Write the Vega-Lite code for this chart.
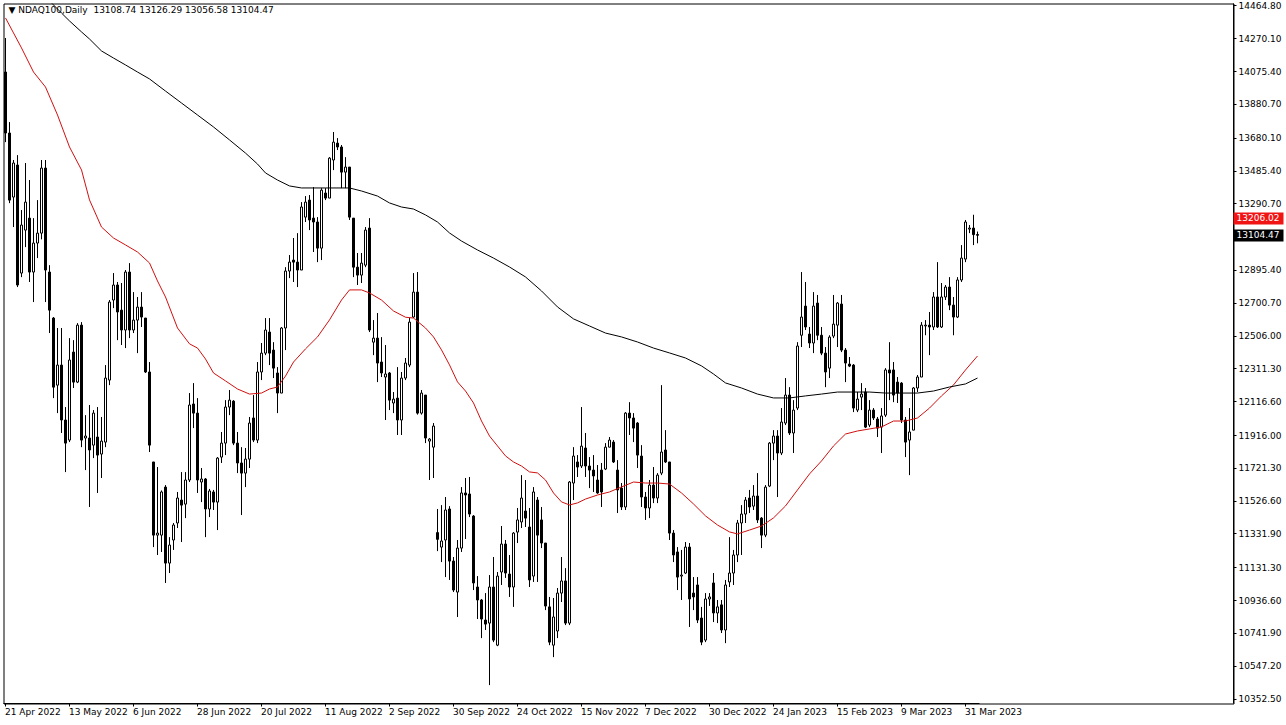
{
"$schema": "https://vega.github.io/schema/vega-lite/v6.json",
"width": 1230, "height": 700,
"autosize": {"type": "none"},
"padding": {"left": 3.5, "top": 3.5, "right": 52.5, "bottom": 21.5},
"background": "white",
"title": {"text": "▼ NDAQ100,Daily\u00a0 13108.74 13126.29 13056.58 13104.47", "anchor": "start", "frame": "group", "orient": "top", "offset": 0, "dx": 5, "dy": 13, "font": "DejaVu Sans", "fontSize": 9, "fontWeight": "normal", "color": "black"},
"config": {
 "view": {"stroke": "black", "strokeWidth": 1},
 "axis": {"grid": false, "labelFont": "DejaVu Sans", "labelFontSize": 9, "labelColor": "black", "domainColor": "black", "tickColor": "black", "translate": 0, "labelOverlap": false}
},
"resolve": {"axis": {"y": "independent"}},
"datasets": {
"candles": [
{"d":"2022-04-21","o":14073,"h":14275,"l":13657,"c":13711},
{"d":"2022-04-22","o":13711,"h":13776,"l":13295,"c":13313},
{"d":"2022-04-25","o":13331,"h":13551,"l":13153,"c":13533},
{"d":"2022-04-26","o":13521,"h":13580,"l":12797,"c":12809},
{"d":"2022-04-27","o":12880,"h":13254,"l":12856,"c":13165},
{"d":"2022-04-28","o":13135,"h":13533,"l":13034,"c":13301},
{"d":"2022-04-29","o":13206,"h":13432,"l":12827,"c":12886},
{"d":"2022-05-02","o":12886,"h":13206,"l":12708,"c":13058},
{"d":"2022-05-03","o":13058,"h":13313,"l":12969,"c":13117},
{"d":"2022-05-04","o":13117,"h":13551,"l":13080,"c":13503},
{"d":"2022-05-05","o":13503,"h":13551,"l":12708,"c":12898},
{"d":"2022-05-06","o":12886,"h":12927,"l":12524,"c":12660},
{"d":"2022-05-09","o":12613,"h":12619,"l":12138,"c":12203},
{"d":"2022-05-10","o":12215,"h":12554,"l":12049,"c":12334},
{"d":"2022-05-11","o":12334,"h":12554,"l":11931,"c":12008},
{"d":"2022-05-12","o":12008,"h":12085,"l":11699,"c":11871},
{"d":"2022-05-13","o":11889,"h":12494,"l":11877,"c":12364},
{"d":"2022-05-16","o":12411,"h":12482,"l":12198,"c":12233},
{"d":"2022-05-17","o":12233,"h":12583,"l":12227,"c":12571},
{"d":"2022-05-18","o":12571,"h":12589,"l":11847,"c":11889},
{"d":"2022-05-19","o":11901,"h":12037,"l":11711,"c":11913},
{"d":"2022-05-20","o":11901,"h":12097,"l":11492,"c":11830},
{"d":"2022-05-23","o":11859,"h":12067,"l":11782,"c":12049},
{"d":"2022-05-24","o":11907,"h":12085,"l":11575,"c":11800},
{"d":"2022-05-25","o":11806,"h":12026,"l":11664,"c":11883},
{"d":"2022-05-26","o":11877,"h":12334,"l":11847,"c":12257},
{"d":"2022-05-27","o":12245,"h":12720,"l":12215,"c":12708},
{"d":"2022-05-30","o":12720,"h":12880,"l":12672,"c":12809},
{"d":"2022-05-31","o":12809,"h":12827,"l":12482,"c":12649},
{"d":"2022-06-01","o":12660,"h":12821,"l":12453,"c":12542},
{"d":"2022-06-02","o":12542,"h":12898,"l":12435,"c":12886},
{"d":"2022-06-03","o":12886,"h":12939,"l":12494,"c":12542},
{"d":"2022-06-06","o":12542,"h":12767,"l":12524,"c":12601},
{"d":"2022-06-07","o":12601,"h":12738,"l":12405,"c":12678},
{"d":"2022-06-08","o":12678,"h":12767,"l":12560,"c":12619},
{"d":"2022-06-09","o":12613,"h":12613,"l":12287,"c":12293},
{"d":"2022-06-10","o":12293,"h":12352,"l":11818,"c":11859},
{"d":"2022-06-13","o":11759,"h":11759,"l":11254,"c":11325},
{"d":"2022-06-14","o":11325,"h":11729,"l":11207,"c":11337},
{"d":"2022-06-15","o":11325,"h":11590,"l":11225,"c":11581},
{"d":"2022-06-16","o":11610,"h":11622,"l":11041,"c":11159},
{"d":"2022-06-17","o":11159,"h":11313,"l":11100,"c":11266},
{"d":"2022-06-20","o":11296,"h":11397,"l":11237,"c":11385},
{"d":"2022-06-21","o":11397,"h":11581,"l":11367,"c":11545},
{"d":"2022-06-22","o":11533,"h":11699,"l":11284,"c":11503},
{"d":"2022-06-23","o":11509,"h":11699,"l":11426,"c":11652},
{"d":"2022-06-24","o":11652,"h":12168,"l":11640,"c":12097},
{"d":"2022-06-27","o":12103,"h":12227,"l":11960,"c":12049},
{"d":"2022-06-28","o":12049,"h":12138,"l":11575,"c":11652},
{"d":"2022-06-29","o":11640,"h":11723,"l":11521,"c":11658},
{"d":"2022-06-30","o":11658,"h":11664,"l":11313,"c":11480},
{"d":"2022-07-01","o":11480,"h":11599,"l":11432,"c":11587},
{"d":"2022-07-04","o":11581,"h":11593,"l":11474,"c":11521},
{"d":"2022-07-05","o":11521,"h":11788,"l":11355,"c":11782},
{"d":"2022-07-06","o":11788,"h":11937,"l":11753,"c":11871},
{"d":"2022-07-07","o":11871,"h":12126,"l":11800,"c":12085},
{"d":"2022-07-08","o":12085,"h":12186,"l":12037,"c":12126},
{"d":"2022-07-11","o":12120,"h":12126,"l":11859,"c":11871},
{"d":"2022-07-12","o":11871,"h":11937,"l":11693,"c":11753},
{"d":"2022-07-13","o":11753,"h":11847,"l":11444,"c":11693},
{"d":"2022-07-14","o":11693,"h":11842,"l":11610,"c":11776},
{"d":"2022-07-15","o":11776,"h":12026,"l":11723,"c":11990},
{"d":"2022-07-18","o":12020,"h":12156,"l":11877,"c":11889},
{"d":"2022-07-19","o":11889,"h":12352,"l":11871,"c":12293},
{"d":"2022-07-20","o":12293,"h":12465,"l":12245,"c":12405},
{"d":"2022-07-21","o":12405,"h":12613,"l":12393,"c":12542},
{"d":"2022-07-22","o":12530,"h":12613,"l":12334,"c":12405},
{"d":"2022-07-25","o":12423,"h":12470,"l":12257,"c":12316},
{"d":"2022-07-26","o":12287,"h":12322,"l":12049,"c":12168},
{"d":"2022-07-27","o":12168,"h":12560,"l":12168,"c":12554},
{"d":"2022-07-28","o":12554,"h":12915,"l":12423,"c":12892},
{"d":"2022-07-29","o":12892,"h":12987,"l":12850,"c":12945},
{"d":"2022-08-01","o":12957,"h":13088,"l":12827,"c":12945},
{"d":"2022-08-02","o":12945,"h":13117,"l":12797,"c":12898},
{"d":"2022-08-03","o":12898,"h":13301,"l":12898,"c":13272},
{"d":"2022-08-04","o":13212,"h":13337,"l":13183,"c":13301},
{"d":"2022-08-05","o":13313,"h":13343,"l":13135,"c":13195},
{"d":"2022-08-08","o":13206,"h":13390,"l":13005,"c":13183},
{"d":"2022-08-09","o":13183,"h":13212,"l":12945,"c":13028},
{"d":"2022-08-10","o":13028,"h":13384,"l":12957,"c":13372},
{"d":"2022-08-11","o":13355,"h":13384,"l":13313,"c":13325},
{"d":"2022-08-12","o":13325,"h":13568,"l":13325,"c":13562},
{"d":"2022-08-15","o":13551,"h":13717,"l":13491,"c":13657},
{"d":"2022-08-16","o":13651,"h":13681,"l":13610,"c":13628},
{"d":"2022-08-17","o":13628,"h":13640,"l":13384,"c":13479},
{"d":"2022-08-18","o":13479,"h":13568,"l":13384,"c":13509},
{"d":"2022-08-19","o":13509,"h":13509,"l":13195,"c":13212},
{"d":"2022-08-22","o":13206,"h":13206,"l":12856,"c":12915},
{"d":"2022-08-23","o":12915,"h":12999,"l":12809,"c":12868},
{"d":"2022-08-24","o":12868,"h":12999,"l":12821,"c":12939},
{"d":"2022-08-25","o":12927,"h":13153,"l":12915,"c":13135},
{"d":"2022-08-26","o":13147,"h":13206,"l":12530,"c":12542},
{"d":"2022-08-29","o":12470,"h":12601,"l":12393,"c":12494},
{"d":"2022-08-30","o":12494,"h":12643,"l":12233,"c":12346},
{"d":"2022-08-31","o":12352,"h":12500,"l":12263,"c":12287},
{"d":"2022-09-01","o":12263,"h":12453,"l":12008,"c":12281},
{"d":"2022-09-02","o":12287,"h":12293,"l":12067,"c":12126},
{"d":"2022-09-05","o":12109,"h":12174,"l":12049,"c":12132},
{"d":"2022-09-06","o":12138,"h":12322,"l":11919,"c":12008},
{"d":"2022-09-07","o":12008,"h":12293,"l":11919,"c":12257},
{"d":"2022-09-08","o":12257,"h":12376,"l":12245,"c":12346},
{"d":"2022-09-09","o":12334,"h":12613,"l":12322,"c":12589},
{"d":"2022-09-12","o":12619,"h":12880,"l":12613,"c":12767},
{"d":"2022-09-13","o":12767,"h":12886,"l":12040,"c":12049},
{"d":"2022-09-14","o":12049,"h":12186,"l":12040,"c":12168},
{"d":"2022-09-15","o":12156,"h":12156,"l":11871,"c":11901},
{"d":"2022-09-16","o":11883,"h":11901,"l":11652,"c":11895},
{"d":"2022-09-19","o":11847,"h":11990,"l":11664,"c":11972},
{"d":"2022-09-23","o":11340,"h":11480,"l":11230,"c":11300},
{"d":"2022-09-26","o":11254,"h":11503,"l":11165,"c":11290},
{"d":"2022-09-28","o":11296,"h":11551,"l":11076,"c":11474},
{"d":"2022-09-29","o":11480,"h":11497,"l":11059,"c":11171},
{"d":"2022-09-30","o":11171,"h":11195,"l":10987,"c":10999},
{"d":"2022-10-03","o":10987,"h":11296,"l":10839,"c":11248},
{"d":"2022-10-04","o":11248,"h":11610,"l":11225,"c":11575},
{"d":"2022-10-05","o":11575,"h":11664,"l":11302,"c":11563},
{"d":"2022-10-06","o":11569,"h":11670,"l":11432,"c":11450},
{"d":"2022-10-07","o":11438,"h":11444,"l":10999,"c":11041},
{"d":"2022-10-10","o":11017,"h":11082,"l":10827,"c":10940},
{"d":"2022-10-11","o":10940,"h":10946,"l":10714,"c":10827},
{"d":"2022-10-12","o":10821,"h":10981,"l":10762,"c":10797},
{"d":"2022-10-13","o":10803,"h":11088,"l":10435,"c":11017},
{"d":"2022-10-14","o":11017,"h":11195,"l":10690,"c":10702},
{"d":"2022-10-17","o":10672,"h":11106,"l":10666,"c":11082},
{"d":"2022-10-18","o":11106,"h":11379,"l":11029,"c":11272},
{"d":"2022-10-19","o":11272,"h":11296,"l":11071,"c":11100},
{"d":"2022-10-20","o":11094,"h":11207,"l":10958,"c":11017},
{"d":"2022-10-21","o":11017,"h":11343,"l":10899,"c":11337},
{"d":"2022-10-24","o":11343,"h":11486,"l":11278,"c":11415},
{"d":"2022-10-25","o":11403,"h":11681,"l":11367,"c":11545},
{"d":"2022-10-26","o":11468,"h":11652,"l":11373,"c":11426},
{"d":"2022-10-27","o":11373,"h":11486,"l":11017,"c":11059},
{"d":"2022-10-28","o":11082,"h":11610,"l":11047,"c":11581},
{"d":"2022-10-31","o":11533,"h":11551,"l":11047,"c":11325},
{"d":"2022-11-01","o":11415,"h":11492,"l":11248,"c":11278},
{"d":"2022-11-02","o":11278,"h":11278,"l":10880,"c":10904},
{"d":"2022-11-03","o":10899,"h":10958,"l":10672,"c":10690},
{"d":"2022-11-04","o":10672,"h":10952,"l":10601,"c":10839},
{"d":"2022-11-07","o":10756,"h":11011,"l":10714,"c":10981},
{"d":"2022-11-08","o":10981,"h":11195,"l":10928,"c":11053},
{"d":"2022-11-09","o":11053,"h":11129,"l":10791,"c":10803},
{"d":"2022-11-10","o":10803,"h":11646,"l":10791,"c":11640},
{"d":"2022-11-11","o":11634,"h":11847,"l":11533,"c":11794},
{"d":"2022-11-14","o":11759,"h":11800,"l":11670,"c":11729},
{"d":"2022-11-15","o":11735,"h":12085,"l":11723,"c":11853},
{"d":"2022-11-16","o":11842,"h":11931,"l":11670,"c":11735},
{"d":"2022-11-17","o":11735,"h":11788,"l":11604,"c":11711},
{"d":"2022-11-18","o":11711,"h":11800,"l":11581,"c":11676},
{"d":"2022-11-21","o":11652,"h":11741,"l":11570,"c":11575},
{"d":"2022-11-22","o":11711,"h":11753,"l":11492,"c":11581},
{"d":"2022-11-23","o":11717,"h":11871,"l":11711,"c":11847},
{"d":"2022-11-24","o":11847,"h":11907,"l":11847,"c":11889},
{"d":"2022-11-25","o":11877,"h":11889,"l":11753,"c":11759},
{"d":"2022-11-28","o":11711,"h":11770,"l":11456,"c":11593},
{"d":"2022-11-29","o":11604,"h":11634,"l":11474,"c":11492},
{"d":"2022-11-30","o":11492,"h":12055,"l":11474,"c":12049},
{"d":"2022-12-01","o":12049,"h":12114,"l":11919,"c":12020},
{"d":"2022-12-02","o":12020,"h":12049,"l":11877,"c":11960},
{"d":"2022-12-05","o":11990,"h":11996,"l":11723,"c":11800},
{"d":"2022-12-06","o":11794,"h":11859,"l":11492,"c":11551},
{"d":"2022-12-07","o":11551,"h":11581,"l":11415,"c":11486},
{"d":"2022-12-08","o":11486,"h":11652,"l":11426,"c":11622},
{"d":"2022-12-09","o":11622,"h":11729,"l":11515,"c":11545},
{"d":"2022-12-12","o":11545,"h":11693,"l":11515,"c":11681},
{"d":"2022-12-13","o":11693,"h":12215,"l":11681,"c":11818},
{"d":"2022-12-14","o":11830,"h":11948,"l":11753,"c":11759},
{"d":"2022-12-15","o":11759,"h":11759,"l":11296,"c":11337},
{"d":"2022-12-16","o":11337,"h":11355,"l":11165,"c":11207},
{"d":"2022-12-19","o":11225,"h":11254,"l":10999,"c":11076},
{"d":"2022-12-20","o":11082,"h":11237,"l":10940,"c":11088},
{"d":"2022-12-21","o":11100,"h":11284,"l":11094,"c":11254},
{"d":"2022-12-22","o":11254,"h":11278,"l":10780,"c":10946},
{"d":"2022-12-23","o":10981,"h":11076,"l":10880,"c":10958},
{"d":"2022-12-27","o":11029,"h":11076,"l":10803,"c":10821},
{"d":"2022-12-28","o":10833,"h":10899,"l":10672,"c":10690},
{"d":"2022-12-29","o":10702,"h":10981,"l":10690,"c":10946},
{"d":"2022-12-30","o":10946,"h":10981,"l":10905,"c":10958},
{"d":"2023-01-03","o":11041,"h":11100,"l":10809,"c":10863},
{"d":"2023-01-04","o":10863,"h":10940,"l":10803,"c":10899},
{"d":"2023-01-05","o":10911,"h":10940,"l":10744,"c":10762},
{"d":"2023-01-06","o":10762,"h":11059,"l":10684,"c":11029},
{"d":"2023-01-09","o":11047,"h":11313,"l":11017,"c":11100},
{"d":"2023-01-10","o":11100,"h":11237,"l":11029,"c":11207},
{"d":"2023-01-11","o":11207,"h":11415,"l":11165,"c":11397},
{"d":"2023-01-12","o":11397,"h":11503,"l":11207,"c":11450},
{"d":"2023-01-13","o":11450,"h":11551,"l":11397,"c":11533},
{"d":"2023-01-16","o":11545,"h":11593,"l":11456,"c":11492},
{"d":"2023-01-17","o":11497,"h":11622,"l":11474,"c":11557},
{"d":"2023-01-18","o":11557,"h":11693,"l":11397,"c":11415},
{"d":"2023-01-19","o":11426,"h":11432,"l":11248,"c":11325},
{"d":"2023-01-20","o":11325,"h":11622,"l":11313,"c":11610},
{"d":"2023-01-23","o":11616,"h":11877,"l":11610,"c":11871},
{"d":"2023-01-24","o":11871,"h":11948,"l":11770,"c":11913},
{"d":"2023-01-25","o":11913,"h":11948,"l":11551,"c":11812},
{"d":"2023-01-26","o":11812,"h":12079,"l":11800,"c":11996},
{"d":"2023-01-27","o":11990,"h":12257,"l":11978,"c":12156},
{"d":"2023-01-30","o":12156,"h":12203,"l":11919,"c":11931},
{"d":"2023-01-31","o":11931,"h":12126,"l":11812,"c":12067},
{"d":"2023-02-01","o":12079,"h":12470,"l":12067,"c":12447},
{"d":"2023-02-02","o":12511,"h":12886,"l":12441,"c":12619},
{"d":"2023-02-03","o":12684,"h":12827,"l":12542,"c":12560},
{"d":"2023-02-06","o":12518,"h":12560,"l":12435,"c":12465},
{"d":"2023-02-07","o":12465,"h":12767,"l":12405,"c":12684},
{"d":"2023-02-08","o":12702,"h":12750,"l":12482,"c":12511},
{"d":"2023-02-09","o":12511,"h":12560,"l":12393,"c":12405},
{"d":"2023-02-10","o":12405,"h":12441,"l":12203,"c":12293},
{"d":"2023-02-13","o":12316,"h":12511,"l":12257,"c":12500},
{"d":"2023-02-14","o":12506,"h":12750,"l":12494,"c":12577},
{"d":"2023-02-15","o":12571,"h":12708,"l":12441,"c":12702},
{"d":"2023-02-16","o":12696,"h":12750,"l":12411,"c":12423},
{"d":"2023-02-17","o":12423,"h":12435,"l":12233,"c":12346},
{"d":"2023-02-20","o":12340,"h":12382,"l":12322,"c":12328},
{"d":"2023-02-21","o":12334,"h":12340,"l":12055,"c":12079},
{"d":"2023-02-22","o":12067,"h":12174,"l":12055,"c":12132},
{"d":"2023-02-23","o":12144,"h":12227,"l":12067,"c":12162},
{"d":"2023-02-24","o":12174,"h":12198,"l":11960,"c":11966},
{"d":"2023-02-27","o":11978,"h":12126,"l":11966,"c":12067},
{"d":"2023-02-28","o":12067,"h":12079,"l":12008,"c":12020},
{"d":"2023-03-01","o":12014,"h":12026,"l":11907,"c":11960},
{"d":"2023-03-02","o":11966,"h":12079,"l":11812,"c":12032},
{"d":"2023-03-03","o":12037,"h":12316,"l":12026,"c":12305},
{"d":"2023-03-06","o":12305,"h":12470,"l":12126,"c":12287},
{"d":"2023-03-07","o":12305,"h":12352,"l":12114,"c":12156},
{"d":"2023-03-08","o":12233,"h":12263,"l":12109,"c":12168},
{"d":"2023-03-09","o":12227,"h":12233,"l":11990,"c":12008},
{"d":"2023-03-10","o":12008,"h":12026,"l":11788,"c":11877},
{"d":"2023-03-13","o":11889,"h":12079,"l":11681,"c":11937},
{"d":"2023-03-14","o":11948,"h":12203,"l":11948,"c":12198},
{"d":"2023-03-15","o":12198,"h":12275,"l":12174,"c":12263},
{"d":"2023-03-16","o":12263,"h":12589,"l":12263,"c":12571},
{"d":"2023-03-17","o":12566,"h":12601,"l":12511,"c":12571},
{"d":"2023-03-20","o":12571,"h":12649,"l":12393,"c":12560},
{"d":"2023-03-21","o":12560,"h":12767,"l":12542,"c":12738},
{"d":"2023-03-22","o":12738,"h":12945,"l":12554,"c":12560},
{"d":"2023-03-23","o":12560,"h":12821,"l":12554,"c":12738},
{"d":"2023-03-24","o":12738,"h":12809,"l":12720,"c":12797},
{"d":"2023-03-27","o":12797,"h":12856,"l":12660,"c":12690},
{"d":"2023-03-28","o":12690,"h":12738,"l":12511,"c":12619},
{"d":"2023-03-29","o":12619,"h":12856,"l":12613,"c":12839},
{"d":"2023-03-30","o":12839,"h":13046,"l":12827,"c":12969},
{"d":"2023-03-31","o":12963,"h":13195,"l":12945,"c":13183},
{"d":"2023-04-03","o":13141,"h":13165,"l":13117,"c":13147},
{"d":"2023-04-04","o":13147,"h":13226,"l":13046,"c":13108},
{"d":"2023-04-05","o":13108.74,"h":13126.29,"l":13056.58,"c":13104.47}
],
"ma50": [
{"d":"2022-04-21","v":14394},{"d":"2022-04-25","v":14305},{"d":"2022-04-27","v":14216},{"d":"2022-05-02","v":14073},{"d":"2022-05-05","v":13984},{"d":"2022-05-10","v":13818},{"d":"2022-05-13","v":13628},{"d":"2022-05-18","v":13492},{"d":"2022-05-20","v":13314},{"d":"2022-05-25","v":13153},{"d":"2022-05-30","v":13088},{"d":"2022-06-02","v":13047},{"d":"2022-06-07","v":13005},{"d":"2022-06-10","v":12940},{"d":"2022-06-14","v":12833},{"d":"2022-06-16","v":12738},{"d":"2022-06-21","v":12554},{"d":"2022-06-24","v":12460},{"d":"2022-06-28","v":12435},{"d":"2022-06-30","v":12370},{"d":"2022-07-04","v":12287},{"d":"2022-07-07","v":12240},{"d":"2022-07-12","v":12192},{"d":"2022-07-15","v":12162},{"d":"2022-07-20","v":12168},{"d":"2022-07-22","v":12192},{"d":"2022-07-26","v":12204},{"d":"2022-07-28","v":12269},{"d":"2022-08-01","v":12352},{"d":"2022-08-04","v":12430},{"d":"2022-08-09","v":12501},{"d":"2022-08-12","v":12602},{"d":"2022-08-17","v":12720},{"d":"2022-08-19","v":12780},{"d":"2022-08-24","v":12780},{"d":"2022-08-26","v":12762},{"d":"2022-08-31","v":12720},{"d":"2022-09-05","v":12655},{"d":"2022-09-08","v":12618},{"d":"2022-09-12","v":12613},{"d":"2022-09-15","v":12554},{"d":"2022-09-19","v":12501},{"d":"2022-09-26","v":12424},{"d":"2022-09-29","v":12335},{"d":"2022-10-03","v":12234},{"d":"2022-10-05","v":12180},{"d":"2022-10-07","v":12109},{"d":"2022-10-11","v":12002},{"d":"2022-10-13","v":11913},{"d":"2022-10-17","v":11854},{"d":"2022-10-19","v":11795},{"d":"2022-10-21","v":11759},{"d":"2022-10-25","v":11735},{"d":"2022-10-27","v":11700},{"d":"2022-10-31","v":11694},{"d":"2022-11-02","v":11652},{"d":"2022-11-04","v":11575},{"d":"2022-11-08","v":11522},{"d":"2022-11-10","v":11504},{"d":"2022-11-14","v":11516},{"d":"2022-11-16","v":11539},{"d":"2022-11-21","v":11563},{"d":"2022-11-24","v":11581},{"d":"2022-11-29","v":11611},{"d":"2022-12-02","v":11640},{"d":"2022-12-07","v":11634},{"d":"2022-12-12","v":11634},{"d":"2022-12-15","v":11628},{"d":"2022-12-20","v":11575},{"d":"2022-12-23","v":11510},{"d":"2022-12-29","v":11439},{"d":"2023-01-04","v":11385},{"d":"2023-01-09","v":11344},{"d":"2023-01-11","v":11332},{"d":"2023-01-16","v":11355},{"d":"2023-01-19","v":11379},{"d":"2023-01-24","v":11427},{"d":"2023-01-27","v":11498},{"d":"2023-02-01","v":11593},{"d":"2023-02-06","v":11688},{"d":"2023-02-09","v":11765},{"d":"2023-02-14","v":11854},{"d":"2023-02-17","v":11925},{"d":"2023-02-22","v":11943},{"d":"2023-02-27","v":11955},{"d":"2023-03-02","v":11967},{"d":"2023-03-07","v":12002},{"d":"2023-03-10","v":12002},{"d":"2023-03-15","v":12020},{"d":"2023-03-20","v":12079},{"d":"2023-03-23","v":12151},{"d":"2023-03-28","v":12216},{"d":"2023-03-31","v":12305},{"d":"2023-04-05","v":12388}
],
"ma200": [
{"d":"2022-05-06","v":14495},{"d":"2022-05-09","v":14471},{"d":"2022-05-11","v":14423},{"d":"2022-05-13","v":14376},{"d":"2022-05-18","v":14311},{"d":"2022-05-20","v":14269},{"d":"2022-05-25","v":14198},{"d":"2022-05-30","v":14156},{"d":"2022-06-02","v":14115},{"d":"2022-06-07","v":14073},{"d":"2022-06-10","v":14032},{"d":"2022-06-16","v":13960},{"d":"2022-06-22","v":13889},{"d":"2022-06-28","v":13818},{"d":"2022-07-04","v":13747},{"d":"2022-07-08","v":13670},{"d":"2022-07-14","v":13592},{"d":"2022-07-19","v":13527},{"d":"2022-07-21","v":13474},{"d":"2022-07-26","v":13432},{"d":"2022-07-29","v":13397},{"d":"2022-08-03","v":13385},{"d":"2022-08-11","v":13385},{"d":"2022-08-19","v":13385},{"d":"2022-08-24","v":13367},{"d":"2022-08-30","v":13337},{"d":"2022-09-02","v":13296},{"d":"2022-09-07","v":13272},{"d":"2022-09-12","v":13260},{"d":"2022-09-15","v":13225},{"d":"2022-09-23","v":13183},{"d":"2022-09-29","v":13118},{"d":"2022-10-04","v":13070},{"d":"2022-10-10","v":13017},{"d":"2022-10-14","v":12969},{"d":"2022-10-20","v":12916},{"d":"2022-10-26","v":12857},{"d":"2022-11-01","v":12774},{"d":"2022-11-07","v":12679},{"d":"2022-11-11","v":12608},{"d":"2022-11-17","v":12566},{"d":"2022-11-23","v":12524},{"d":"2022-11-29","v":12501},{"d":"2022-12-05","v":12471},{"d":"2022-12-09","v":12435},{"d":"2022-12-15","v":12406},{"d":"2022-12-21","v":12376},{"d":"2022-12-28","v":12329},{"d":"2023-01-03","v":12281},{"d":"2023-01-06","v":12228},{"d":"2023-01-12","v":12198},{"d":"2023-01-18","v":12162},{"d":"2023-01-24","v":12139},{"d":"2023-01-30","v":12139},{"d":"2023-02-03","v":12151},{"d":"2023-02-09","v":12162},{"d":"2023-02-15","v":12174},{"d":"2023-02-21","v":12174},{"d":"2023-02-27","v":12174},{"d":"2023-03-03","v":12168},{"d":"2023-03-09","v":12168},{"d":"2023-03-15","v":12168},{"d":"2023-03-21","v":12180},{"d":"2023-03-27","v":12204},{"d":"2023-03-31","v":12222},{"d":"2023-04-05","v":12257}
]
},
"layer": [
{"data": {"name": "candles"},
 "mark": {"type": "rule", "color": "black", "strokeWidth": 1},
 "encoding": {
  "x": {"field": "d", "type": "ordinal", "scale": {"type": "band", "range": [0, 976], "paddingInner": 0, "paddingOuter": 0},
   "axis": {"title": null, "values": ["2022-04-21","2022-05-13","2022-06-06","2022-06-28","2022-07-20","2022-08-11","2022-09-02","2022-09-30","2022-10-24","2022-11-15","2022-12-07","2022-12-30","2023-01-24","2023-02-15","2023-03-09","2023-03-31"],
    "labelExpr": "utcFormat(toDate(datum.value), '%-d %b %Y')", "labelAngle": 0, "labelAlign": "left", "labelBaseline": "top", "labelPadding": 1, "tickSize": 3, "labelOverlap": false}},
  "y": {"field": "l", "type": "quantitative", "scale": {"domain": [10325.8, 14479.6], "nice": false, "zero": false},
   "axis": {"title": null, "orient": "right", "values": [14464.80, 14270.10, 14075.40, 13880.70, 13680.10, 13485.40, 13290.70, 12895.40, 12700.70, 12506.00, 12311.30, 12116.60, 11916.00, 11721.30, 11526.60, 11331.90, 11131.30, 10936.60, 10741.90, 10547.20, 10352.50], "format": ".2f", "tickSize": 3, "labelPadding": 2, "labelOverlap": false, "labelFlush": false}},
  "y2": {"field": "h"}
 }},
{"mark": {"type": "rule", "color": "#b4b4b4", "strokeWidth": 1},
 "encoding": {"y": {"datum": 13104.47, "type": "quantitative",
   "axis": {"title": null, "orient": "right", "values": [13104.47], "format": ".2f", "domain": false, "tickColor": "black", "tickWidth": 12, "tickSize": 50, "labelColor": "white", "labelPadding": -47, "labelOverlap": false}}}},
{"mark": {"type": "rule", "color": "#cc1111", "strokeWidth": 1, "strokeDash": [14, 6]},
 "encoding": {"y": {"datum": 13206.02, "type": "quantitative",
   "axis": {"title": null, "orient": "right", "values": [13206.02], "format": ".2f", "domain": false, "tickColor": "#f01414", "tickWidth": 12, "tickSize": 50, "labelColor": "white", "labelPadding": -47, "labelOverlap": false}}}},
{"data": {"name": "candles"},
 "mark": {"type": "bar", "size": 2, "stroke": "black", "strokeWidth": 1},
 "encoding": {
  "x": {"field": "d", "type": "ordinal"},
  "y": {"field": "o", "type": "quantitative", "axis": null},
  "y2": {"field": "c"},
  "fill": {"condition": {"test": "datum.c >= datum.o", "value": "white"}, "value": "black"}
 }},
{"data": {"name": "ma50"},
 "mark": {"type": "line", "color": "#d01010", "strokeWidth": 1, "clip": true},
 "encoding": {"x": {"field": "d", "type": "ordinal"}, "y": {"field": "v", "type": "quantitative", "axis": null}}},
{"data": {"name": "ma200"},
 "mark": {"type": "line", "color": "black", "strokeWidth": 1, "clip": true},
 "encoding": {"x": {"field": "d", "type": "ordinal"}, "y": {"field": "v", "type": "quantitative", "axis": null}}}
]
}
